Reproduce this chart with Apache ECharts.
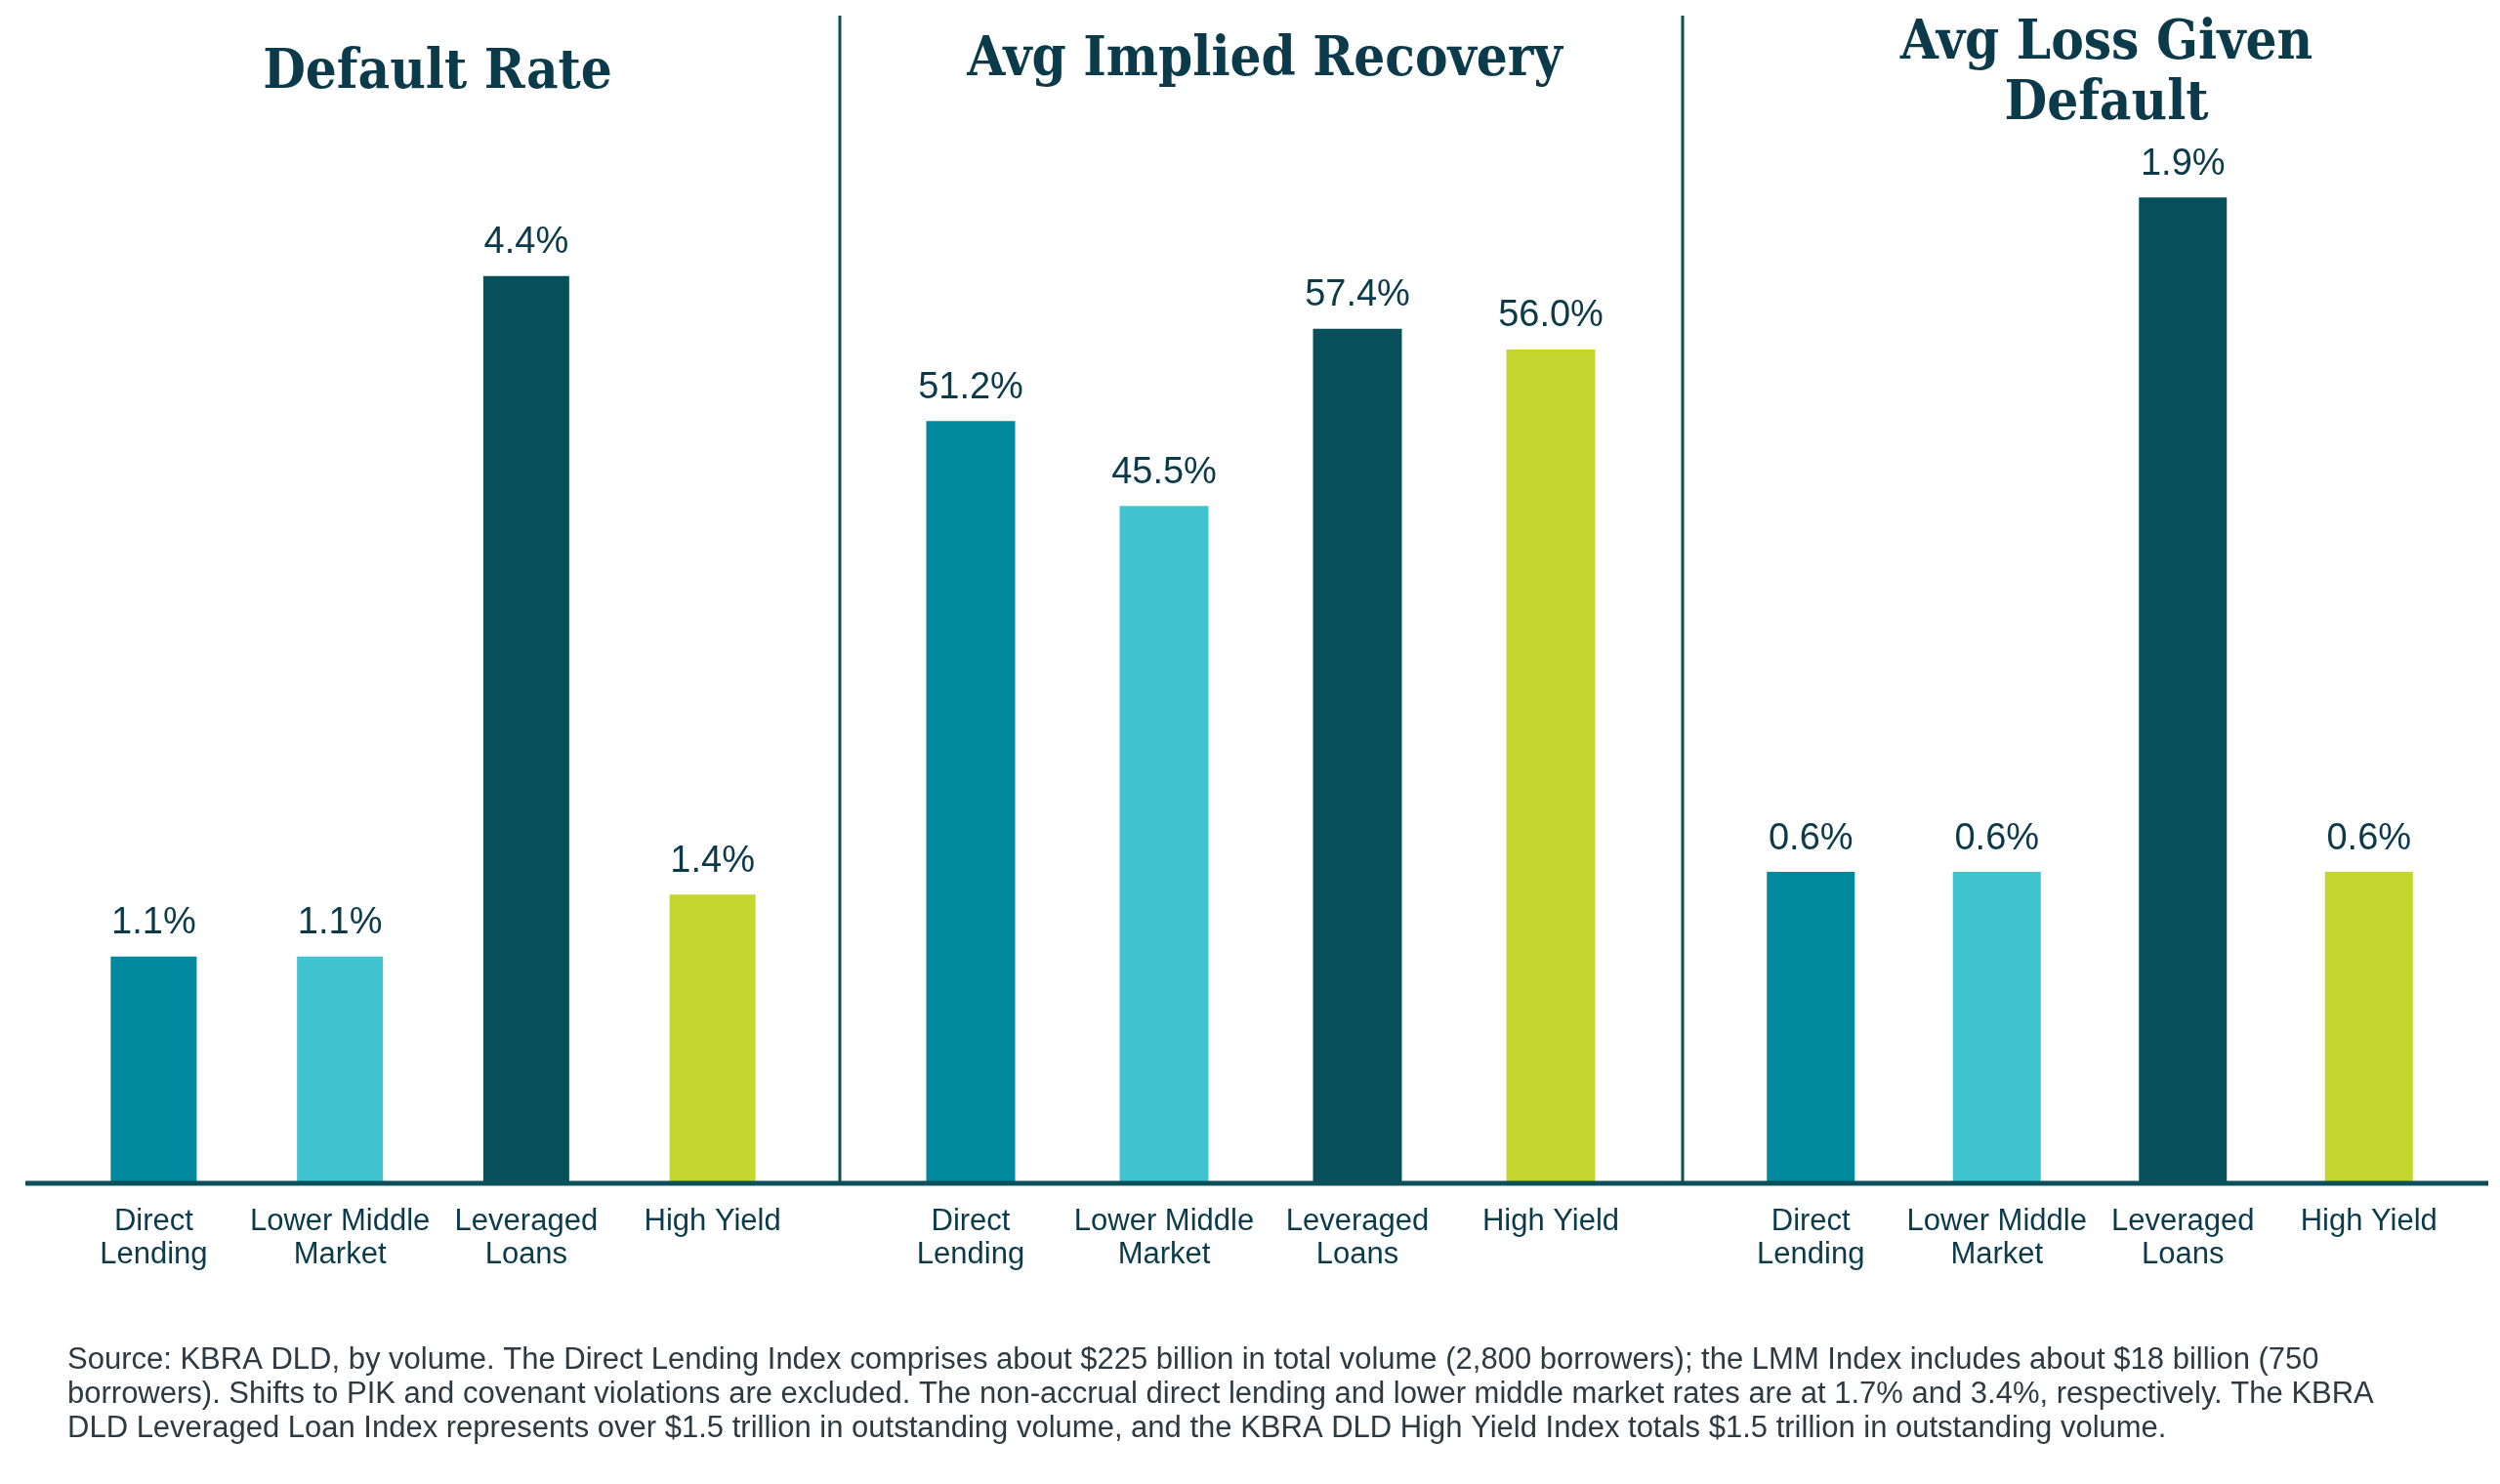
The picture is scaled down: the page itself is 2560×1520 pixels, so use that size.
<!DOCTYPE html>
<html>
<head>
<meta charset="utf-8">
<script src="https://cdn.jsdelivr.net/npm/echarts@6/dist/echarts.min.js"></script>
<style>html,body{margin:0;padding:0;background:#fff;}#c{width:2560px;height:1520px;}</style>
</head>
<body>
<div id="c"></div>
<script>
// ---- data ----
const categories = ['Direct\nLending', 'Lower Middle\nMarket', 'Leveraged\nLoans', 'High Yield'];
const panelTitles = ['Default Rate', 'Avg Implied Recovery', 'Avg Loss Given\nDefault'];
const defaultRate = [1.1, 1.1, 4.4, 1.4];
const impliedRecovery = [51.2, 45.5, 57.4, 56.0];
const lossGivenDefault = [0.6, 0.6, 1.9, 0.6];
const footnote = [
  'Source: KBRA DLD, by volume. The Direct Lending Index comprises about $225 billion in total volume (2,800 borrowers); the LMM Index includes about $18 billion (750',
  'borrowers). Shifts to PIK and covenant violations are excluded. The non-accrual direct lending and lower middle market rates are at 1.7% and 3.4%, respectively. The KBRA',
  'DLD Leveraged Loan Index represents over $1.5 trillion in outstanding volume, and the KBRA DLD High Yield Index totals $1.5 trillion in outstanding volume.'
];

// ---- styling / layout ----
const barColors = ['#00889e', '#40c4d0', '#07505a', '#c4d62e'];
const textColor = '#0b3a4a';
const lineColor = '#0b4f5a';
const baseY = 1212;
const panels = [
  { left: 62, width: 763, max: 5, top: 1212 - 5 * 211.2, barWidth: 88, data: defaultRate, tx: 443, ty: 39 },
  { left: 895, width: 792, max: 70, top: 1212 - 70 * 15.25, barWidth: 91, data: impliedRecovery, tx: 1290, ty: 26 },
  { left: 1759, width: 762, max: 2, top: 1212 - 2 * 531.5, barWidth: 90, data: lossGivenDefault, tx: 2152, ty: 9 }
];

const chart = echarts.init(document.getElementById('c'));
const option = {
  backgroundColor: '#fff',
  animation: false,
  title: panels.map((p, i) => ({
    text: panelTitles[i],
    left: p.tx, top: p.ty, textAlign: 'center',
    textStyle: { fontFamily: 'DejaVu Serif Condensed', fontWeight: 'bold', fontSize: 56, lineHeight: 62, color: textColor }
  })),
  grid: panels.map(p => ({ left: p.left, width: p.width, top: p.top, bottom: 1520 - baseY })),
  xAxis: panels.map((p, i) => ({
    type: 'category', gridIndex: i, data: categories,
    axisLine: { show: false }, axisTick: { show: false },
    axisLabel: { fontFamily: 'Liberation Sans', fontSize: 31, lineHeight: 34, color: textColor, margin: 22, interval: 0 }
  })),
  yAxis: panels.map((p, i) => ({
    type: 'value', gridIndex: i, min: 0, max: p.max, show: false, splitLine: { show: false }
  })),
  series: panels.map((p, i) => ({
    type: 'bar', xAxisIndex: i, yAxisIndex: i, barWidth: p.barWidth,
    data: p.data.map((v, j) => ({ value: v, itemStyle: { color: barColors[j] } })),
    label: {
      show: true, position: 'top', distance: 15,
      formatter: d => d.value.toFixed(1) + '%',
      fontFamily: 'Liberation Sans', fontSize: 38, color: textColor
    }
  })),
  graphic: [
    { type: 'line', z: 10, shape: { x1: 26, y1: baseY, x2: 2548, y2: baseY }, style: { stroke: lineColor, lineWidth: 5 } },
    { type: 'line', z: 10, shape: { x1: 860, y1: 16, x2: 860, y2: baseY }, style: { stroke: lineColor, lineWidth: 3 } },
    { type: 'line', z: 10, shape: { x1: 1723, y1: 16, x2: 1723, y2: baseY }, style: { stroke: lineColor, lineWidth: 3 } },
    { type: 'text', left: 69, top: 1376, style: { text: footnote.join('\n'), fontFamily: 'Liberation Sans', fontSize: 31, lineHeight: 35, fill: '#2e3a42' } }
  ]
};
chart.setOption(option);
</script>
</body>
</html>
